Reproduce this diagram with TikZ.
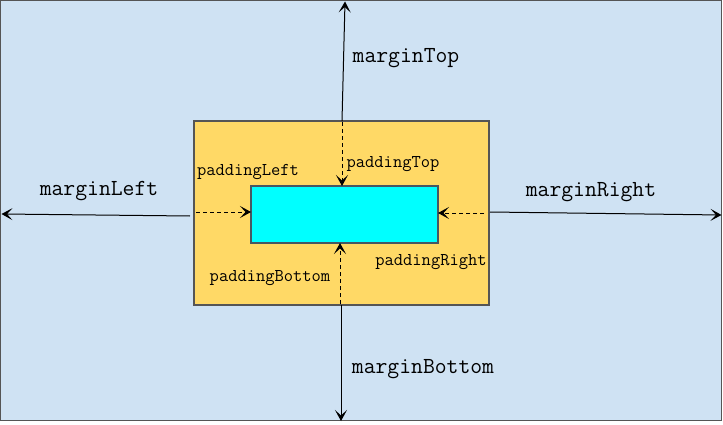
\documentclass[tikz,border=0pt]{standalone}
\usetikzlibrary{arrows.meta}
\definecolor{bgblue}{HTML}{CFE2F3}
\definecolor{boxorange}{HTML}{FFD966}
\definecolor{edgegray}{HTML}{555555}
\definecolor{cyanfill}{HTML}{00FFFF}
\tikzset{
  area/.style={draw=edgegray, line width=1.2pt, anchor=north west, inner sep=0pt, outer sep=0pt},
  marginarrow/.style={line width=1pt, -{Stealth[length=11pt,width=12pt,inset=5.5pt]}},
  paddingarrow/.style={line width=1pt, dashed, dash pattern=on 4pt off 3pt, -{Stealth[length=11pt,width=12pt,inset=5.5pt]}},
  mlabel/.style={font=\ttfamily\fontsize{23}{25}\selectfont, inner sep=0pt},
  plabel/.style={font=\ttfamily\fontsize{18}{20}\selectfont, inner sep=0pt}
}
\begin{document}
\begin{tikzpicture}[x=1pt,y=-1pt]
\useasboundingbox (0,0) rectangle (723,425);
\node[area, fill=bgblue, minimum width=721pt, minimum height=420pt] (outer) at (0.6,0.6) {};
\node[area, fill=boxorange, minimum width=295pt, minimum height=184pt] (border) at (194,121) {};
\node[area, fill=cyanfill, draw=black!70!cyan, minimum width=187pt, minimum height=57pt] (content) at (251,186) {};
% free ends
\coordinate (topend) at (345,1.5);
\coordinate (leftend) at (1.5,214);
\coordinate (rightend) at (721.5,215);
\coordinate (bottomend) at (341,421);
\coordinate (tstart) at (342,121);
\coordinate (lstart) at (190,216);
\coordinate (rstart) at (490,212);
\coordinate (bstart) at (341,305);
% margin arrows
\draw[marginarrow] (tstart) -- (topend);
\draw[marginarrow] (lstart) -- (leftend);
\draw[marginarrow] (rstart) -- (rightend);
\draw[marginarrow] (bstart) -- (bottomend);
% padding arrows
\coordinate (ptop) at (342,122);
\coordinate (pleft) at (196,212);
\coordinate (pright) at (484,213);
\coordinate (pbottom) at (340,304);
\draw[paddingarrow] (ptop) -- (content.north -| ptop);
\draw[paddingarrow] (pleft) -- (content.west |- pleft);
\draw[paddingarrow] (pright) -- (content.east |- pright);
\draw[paddingarrow] (pbottom) -- (content.south -| pbottom);
% labels
\node[mlabel] (lt) at (406,58) {marginTop};
\node[mlabel] (ll) at (99,191) {marginLeft};
\node[mlabel] (lr) at (591,192) {marginRight};
\node[mlabel] (lb) at (423,369) {marginBottom};
\node[plabel] (plt) at (248,172) {paddingLeft};
\node[plabel] (ptp) at (393,164) {paddingTop};
\node[plabel] (prt) at (431,262) {paddingRight};
\node[plabel] (pbt) at (270,278) {paddingBottom};
\end{tikzpicture}
\end{document}
